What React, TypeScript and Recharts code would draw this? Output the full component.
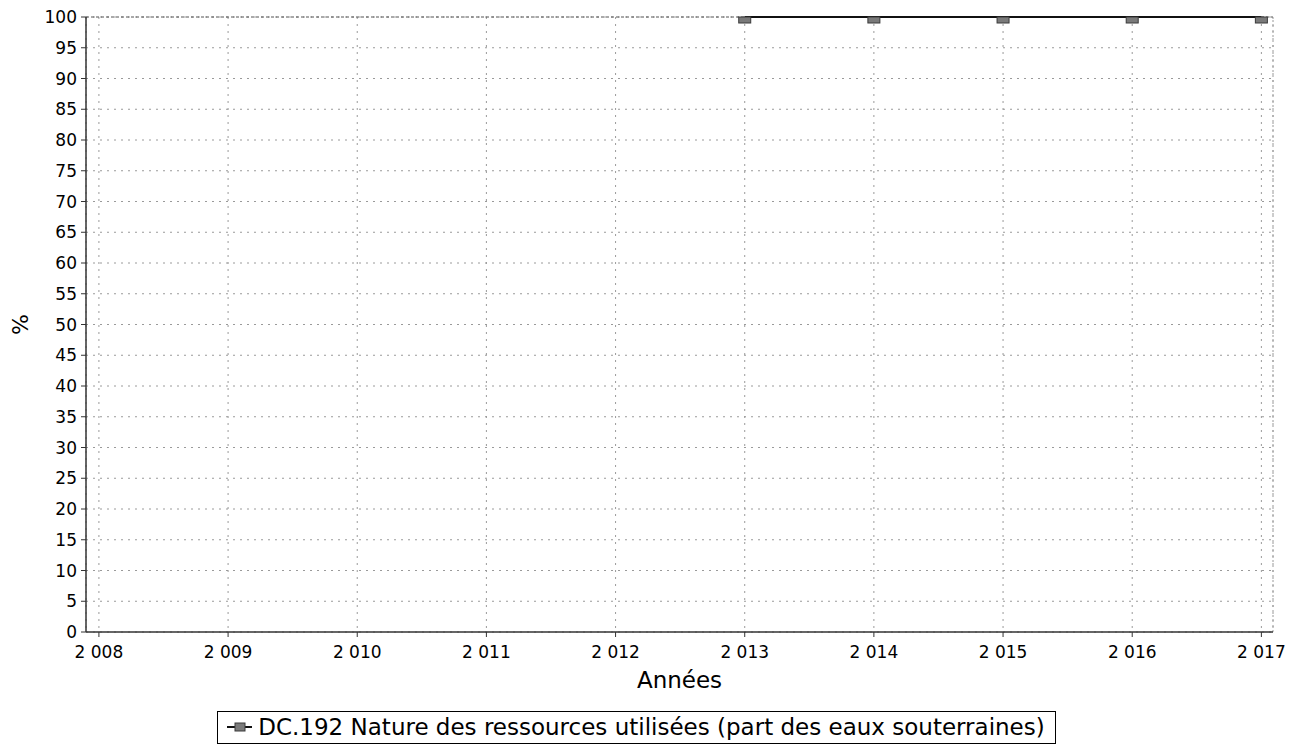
import React from 'react';
import {
  LineChart,
  Line,
  XAxis,
  YAxis,
  CartesianGrid,
  Legend,
  ReferenceLine,
} from 'recharts';

// ─── Data ─────────────────────────────────────────────────────────────────────

const ANNEES = [2008, 2009, 2010, 2011, 2012, 2013, 2014, 2015, 2016, 2017];
const PART_SOUTERRAINE: (number | null)[] = [null, null, null, null, null, 100, 100, 100, 100, 100];
const Y_TICKS = [0, 5, 10, 15, 20, 25, 30, 35, 40, 45, 50, 55, 60, 65, 70, 75, 80, 85, 90, 95, 100];
const SERIE_NOM = 'DC.192 Nature des ressources utilisées (part des eaux souterraines)';

const data = ANNEES.map((annee, i) => ({ annee, part: PART_SOUTERRAINE[i] }));

const FONT = '"DejaVu Sans", Verdana, sans-serif';
const GRID = '#9a9a9a';

// "2 008" style, french thousands separator
const formatAnnee = (v: number) => `${Math.floor(v / 1000)} ${String(v % 1000).padStart(3, '0')}`;

// square marker, the top half is clipped by the plot edge in the original
const SquareDot = (props: any) => {
  const { cx, cy, index } = props;
  if (cx == null || cy == null || props.value == null) return null;
  return <rect key={`dot-${index}`} x={cx - 6} y={cy} width={12} height={6} fill="#7a7a7a" stroke="#3a3a3a" strokeWidth={1} />;
};

const LegendBox = () => (
  <div style={{ textAlign: 'center', fontFamily: FONT }}>
    <div
      style={{
        display: 'inline-flex',
        alignItems: 'center',
        border: '1px solid #000',
        padding: '2px 10px 3px 9px',
        fontSize: 23,
        lineHeight: '26px',
        color: '#000',
        background: '#fff',
      }}
    >
      <svg width={25} height={12} style={{ display: 'block' }}>
        <line x1={0} y1={6} x2={25} y2={6} stroke="#111" strokeWidth={2} />
        <rect x={8} y={2} width={10} height={8} fill="#7a7a7a" stroke="#3a3a3a" />
      </svg>
      <span style={{ marginLeft: 6 }}>{SERIE_NOM}</span>
    </div>
  </div>
);

const YLabel = ({ viewBox }: any) => {
  const x = (viewBox?.x ?? 0) + 20;
  const y = (viewBox?.y ?? 0) + (viewBox?.height ?? 0) / 2;
  return (
    <text x={x} y={y} transform={`rotate(-90 ${x} ${y})`} textAnchor="middle" dominantBaseline="central" fontSize={22} fontFamily={FONT} fill="#000">
      %
    </text>
  );
};

export default function App() {
  return (
    <div style={{ position: 'absolute', left: 0, top: 0, width: 1290, height: 745, background: '#fff' }}>
      <LineChart width={1290} height={745} data={data} margin={{ top: 17, right: 17, left: 0, bottom: 1 }}>
        <CartesianGrid stroke={GRID} strokeDasharray="2 5" verticalPoints={undefined} />
        <XAxis
          dataKey="annee"
          type="number"
          domain={[2007.9, 2017.09]}
          ticks={ANNEES}
          tickFormatter={formatAnnee}
          tick={{ fontSize: 17, fill: '#000', fontFamily: FONT }}
          tickSize={5}
          tickMargin={9}
          axisLine={{ stroke: '#333', strokeWidth: 1.5 }}
          tickLine={{ stroke: '#333' }}
          height={79}
          allowDecimals={false}
          label={{ value: 'Années', position: 'insideBottom', offset: 23, fontSize: 23, fill: '#000', fontFamily: FONT }}
        />
        <YAxis
          type="number"
          domain={[0, 100]}
          ticks={Y_TICKS}
          interval={0}
          tick={{ fontSize: 17, fill: '#000', fontFamily: FONT }}
          tickSize={5}
          tickMargin={4}
          axisLine={{ stroke: '#333', strokeWidth: 1.5 }}
          tickLine={{ stroke: '#333' }}
          width={86}
          label={<YLabel />}
        />
        <ReferenceLine x={2017.09} stroke={GRID} strokeDasharray="2 3" />
        <ReferenceLine y={100} stroke="#555" strokeDasharray="3 2" />
        <Legend verticalAlign="bottom" content={<LegendBox />} />
        <Line
          type="linear"
          dataKey="part"
          name={SERIE_NOM}
          stroke="#111"
          strokeWidth={2}
          dot={<SquareDot />}
          activeDot={false}
          connectNulls={false}
          isAnimationActive={false}
        />
      </LineChart>
    </div>
  );
}
